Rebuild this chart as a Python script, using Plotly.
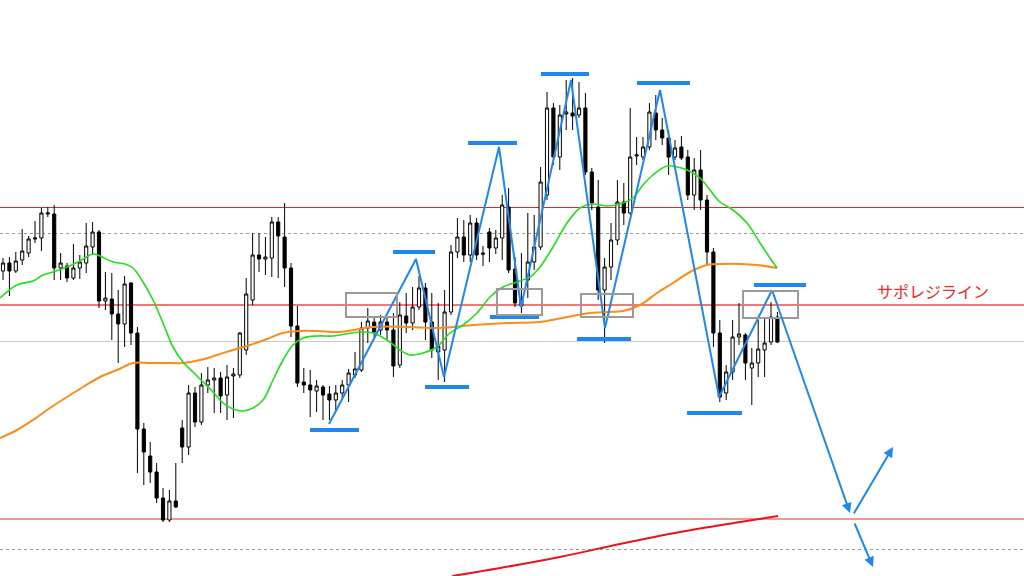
import plotly.graph_objects as go

# ---- candle data (price units) ----
opens = [329,337,329,340,347,361,362,386,386,332,
         334,322,332,337,353,368,299,301,286,276,
         317,267,171,144,128,102,80,99,172,153,
         207,178,215,220,222,205,224,225,250,300,
         345,341,342,378,363,332,274,218,215,209,
         213,206,200,207,215,225,230,272,278,270,
         278,270,235,284,277,293,312,278,248,250,
         288,348,363,345,377,347,368,352,362,393,
         331,294,320,338,353,405,492,443,486,487,
         485,492,428,393,310,333,360,398,387,444,
         443,453,487,470,462,443,453,443,405,430,
         400,348,267,207,228,263,265,232,237,250,
         258,283]
highs = [342,343,348,371,364,379,392,393,395,347,
         337,356,345,377,378,370,328,327,310,324,
         318,273,177,158,137,112,110,137,180,215,
         213,227,233,232,228,235,232,268,322,367,
         367,363,383,383,397,337,294,232,230,220,
         215,214,215,220,231,248,278,292,282,285,
         282,287,298,307,313,324,317,307,297,310,
         355,382,380,385,382,354,372,370,405,412,
         343,347,387,385,433,508,497,495,520,522,
         518,507,432,420,342,377,420,417,492,463,
         463,497,505,482,470,460,464,450,442,450,
         405,352,280,235,280,297,267,252,280,283,
         298,288]
lows = [320,304,327,335,343,357,349,383,320,320,
        318,320,321,327,345,292,290,260,237,253,
        255,127,115,117,97,78,78,92,137,145,
        173,175,207,187,187,180,182,222,245,295,
        328,325,323,322,313,263,213,207,183,188,
        180,180,188,200,198,222,228,257,262,265,
        260,223,232,267,270,290,260,242,220,218,
        285,342,338,338,340,334,338,346,340,327,
        293,287,302,330,350,400,435,430,470,470,
        482,425,390,300,257,320,355,375,385,435,
        440,450,460,455,425,440,440,400,390,390,
        335,253,198,200,220,255,220,195,223,223,
        255,257]
closes = [337,329,339,349,361,362,387,387,332,337,
          322,332,338,354,368,299,302,286,276,316,
          267,171,148,128,102,80,99,93,153,207,
          178,215,220,222,204,223,226,267,306,345,
          341,343,378,364,332,274,217,215,210,214,
          205,200,207,215,227,231,272,279,268,278,
          270,234,285,277,293,312,278,250,254,288,
          348,363,345,377,345,346,352,362,395,330,
          297,300,338,353,418,492,443,485,488,484,
          492,428,397,310,333,360,398,387,443,445,
          453,488,470,462,443,452,442,405,430,400,
          348,267,203,228,263,266,237,237,251,257,
          283,258]
candle_index = list(range(len(opens)))

# ---- moving averages (sampled along the chart) ----
ma_fast_x = [-0.47,2.19,4.69,6.25,7.81,10.0,12.03,14.06,15.16,17.19,19.06,20.31,21.88,23.44,25.0,
             26.56,28.13,29.69,31.25,32.81,34.38,35.94,37.5,39.06,40.63,42.19,43.75,45.31,46.88,
             49.06,51.56,55.78,57.81,60.0,62.03,63.59,65.63,67.81,69.84,71.88,74.06,76.09,78.13,
             80.31,82.34,83.91,85.94,88.13,90.16,92.19,94.38,96.41,98.44,100.0,101.56,103.75,
             105.31,106.88,108.91,110.47,112.03,114.06,116.25,118.28,119.84,120.94]
ma_fast_y = [302,315,319,325,328,333,339,346,344,338,336,332,318,300,277,
             253,238,228,218,208,197,191,189,192,200,220,240,255,262,
             264,264,268,267,260,250,245,247,253,267,275,287,303,313,
             318,323,333,353,377,392,396,394,396,402,415,425,434,
             433,430,422,410,398,390,377,357,342,332]

ma_mid_x = [-0.47,2.19,4.69,7.34,10.0,12.5,15.16,17.81,20.31,22.97,25.63,28.13,30.78,33.44,35.94,
            38.59,41.25,43.75,46.41,49.06,52.66,57.81,63.13,68.28,73.44,78.75,83.91,86.56,89.06,
            91.72,94.38,96.88,99.53,102.19,104.69,107.34,110.0,112.5,115.16,117.81,120.94]
ma_mid_y = [162,170,180,192,203,213,223,230,237,237,237,237,240,245,250,
            255,261,267,269,269,268,273,273,272,275,277,278,281,284,
            287,288,289,295,307,317,328,335,336,336,335,332]

ma_slow_x = [70.2, 77.7, 87.0, 96.4, 105.8, 115.2, 121.1]
ma_slow_y = [24, 32, 43, 56, 68, 78, 84]

# ---- annotations: zigzag, arrows, bars, boxes, levels ----
zz_x = [50.94, 64.53, 68.91, 77.5, 80.94, 88.75, 94.06, 102.66, 111.88, 120.16]
zz_y = [176, 341, 223, 453, 293, 520, 272, 510, 203, 310]

arrow_x0 = [120.16, 132.81, 132.97]
arrow_y0 = [310, 85, 78]
arrow_x1 = [132.34, 139.06, 135.94]
arrow_y1 = [87, 153, 33]

bar_x0 = [47.97, 60.94, 65.94, 72.66, 76.09, 84.06, 89.69, 99.06, 106.88, 117.34]
bar_x1 = [55.63, 67.5, 72.81, 80.31, 83.75, 91.56, 98.13, 107.34, 115.47, 125.47]
bar_y = [170, 348, 213, 457, 283, 526, 261, 517, 187, 315]

box_x0 = [53.59, 77.19, 90.31, 115.63]
box_x1 = [61.56, 84.22, 98.44, 124.22]
box_y0 = [283, 285, 283, 282]
box_y1 = [307, 311, 306, 309]

level_values = [392.5, 366.5, 295, 258.5, 81, 50.5]
level_colors = ["#e02a2a", "#9a9a9a", "#f07878", "#cccccc", "#e8302a", "#9a9a9a"]
level_widths = [1, 1, 2, 1, 1.2, 1]
level_dashes = ["solid", "dot", "solid", "solid", "solid", "dot"]

label_text = "サポレジライン"
label_x = 145.3
label_y = 309

fig = go.Figure()

fig.add_trace(go.Candlestick(
    x=candle_index, open=opens, high=highs, low=lows, close=closes,
    increasing=dict(fillcolor="white", line=dict(color="#000000", width=1)),
    decreasing=dict(fillcolor="#000000", line=dict(color="#000000", width=1)),
    whiskerwidth=0, showlegend=False, hoverinfo="skip"))

fig.add_trace(go.Scatter(x=ma_mid_x, y=ma_mid_y, mode="lines", line=dict(color="#ff8c1a", width=2, shape="spline"),
                         showlegend=False, hoverinfo="skip"))
fig.add_trace(go.Scatter(x=ma_fast_x, y=ma_fast_y, mode="lines", line=dict(color="#22e01a", width=1.6, shape="spline"),
                         showlegend=False, hoverinfo="skip"))
fig.add_trace(go.Scatter(x=ma_slow_x, y=ma_slow_y, mode="lines", line=dict(color="#e8141c", width=2, shape="spline"),
                         showlegend=False, hoverinfo="skip"))
fig.add_trace(go.Scatter(x=zz_x, y=zz_y, mode="lines", line=dict(color="#1e88f0", width=2),
                         showlegend=False, hoverinfo="skip"))

shapes = []
for v, c, w, d in zip(level_values, level_colors, level_widths, level_dashes):
    shapes.append(dict(type="line", xref="paper", yref="y", x0=0, x1=1, y0=v, y1=v,
                       line=dict(color=c, width=w, dash=d), layer="below"))
for x0, x1, y in zip(bar_x0, bar_x1, bar_y):
    shapes.append(dict(type="line", xref="x", yref="y", x0=x0, x1=x1, y0=y, y1=y,
                       line=dict(color="#1e88f0", width=4)))
for x0, x1, y0, y1 in zip(box_x0, box_x1, box_y0, box_y1):
    shapes.append(dict(type="rect", xref="x", yref="y", x0=x0, x1=x1, y0=y0, y1=y1,
                       line=dict(color="#9a9a9a", width=2), fillcolor="rgba(0,0,0,0)"))

annotations = []
for x0, y0, x1, y1 in zip(arrow_x0, arrow_y0, arrow_x1, arrow_y1):
    annotations.append(dict(x=x1, y=y1, ax=x0, ay=y0, xref="x", yref="y", axref="x", ayref="y",
                            text="", showarrow=True, arrowhead=2, arrowsize=1, arrowwidth=2,
                            arrowcolor="#1e88f0", standoff=0, startstandoff=0))
annotations.append(dict(x=label_x, y=label_y, xref="x", yref="y", text=label_text, showarrow=False,
                        font=dict(family="Noto Sans CJK JP", size=16, color="#f02828"),
                        xanchor="center", yanchor="middle"))

fig.update_layout(
    width=1024, height=576, margin=dict(l=0, r=0, t=0, b=0),
    paper_bgcolor="white", plot_bgcolor="white",
    shapes=shapes, annotations=annotations,
    xaxis=dict(range=[-0.47, 159.53], visible=False, rangeslider=dict(visible=False), fixedrange=True),
    yaxis=dict(range=[24, 600], visible=False, fixedrange=True),
    hovermode=False,
)

fig.write_html("out.html", config={"displayModeBar": False},
               post_script="document.body.style.margin='0';document.body.style.overflow='hidden';")
